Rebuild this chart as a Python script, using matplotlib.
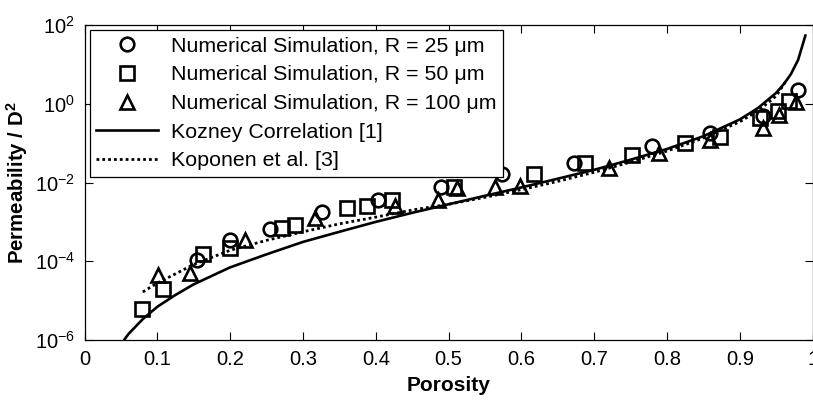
import matplotlib

matplotlib.use("Agg")
import matplotlib.pyplot as plt

plt.rcParams["font.family"] = ["Liberation Sans", "DejaVu Sans"]
plt.rcParams["mathtext.fontset"] = "custom"
plt.rcParams["mathtext.rm"] = "Liberation Sans"
plt.rcParams["mathtext.bf"] = "Liberation Sans:bold"
plt.rcParams["mathtext.default"] = "regular"

# numerical simulation, R = 25 um
c_phi = [0.155, 0.20, 0.255, 0.326, 0.403, 0.49, 0.573, 0.672, 0.779, 0.859, 0.932, 0.98]
c_k = [1.1e-4, 3.5e-4, 6.7e-4, 1.8e-3, 3.5e-3, 7.5e-3, 1.6e-2, 3.2e-2, 8.5e-2, 0.18, 0.5, 2.2]

# numerical simulation, R = 50 um
s_phi = [0.079, 0.108, 0.163, 0.20, 0.271, 0.289, 0.36, 0.388, 0.422, 0.507,
         0.617, 0.687, 0.752, 0.825, 0.873, 0.927, 0.952, 0.967]
s_k = [6.2e-6, 1.95e-5, 1.5e-4, 2.2e-4, 6.9e-4, 8.5e-4, 2.2e-3, 2.5e-3, 3.7e-3, 7.5e-3,
       1.6e-2, 3.1e-2, 5e-2, 0.1, 0.147, 0.43, 0.65, 1.2]

# numerical simulation, R = 100 um
t_phi = [0.101, 0.145, 0.221, 0.317, 0.427, 0.485, 0.512, 0.564, 0.598, 0.72,
         0.789, 0.859, 0.932, 0.954, 0.977]
t_k = [4.6e-5, 4.9e-5, 3.4e-4, 1.25e-3, 2.5e-3, 3.5e-3, 7.2e-3, 7.5e-3, 8.2e-3, 2.3e-2,
       5.6e-2, 0.12, 0.24, 0.52, 1.1]

# Kozeny correlation
koz_phi = [0.05, 0.06, 0.08, 0.10, 0.125, 0.15, 0.2, 0.25, 0.3, 0.35, 0.4, 0.45, 0.5,
           0.55, 0.6, 0.65, 0.7, 0.75, 0.8, 0.85, 0.9, 0.925, 0.95, 0.96, 0.97, 0.98, 0.99]
koz_k = [7.7e-7, 1.4e-6, 3.4e-6, 7e-6, 1.4e-5, 2.6e-5, 7e-5, 1.5e-4, 3.1e-4, 5.6e-4, 1.0e-3,
         1.7e-3, 2.8e-3, 4.6e-3, 7.5e-3, 1.25e-2, 2.1e-2, 3.8e-2, 7.1e-2, 0.15, 0.4, 0.78,
         1.9, 3.1, 5.6, 13, 54]

# Koponen et al.
kop_phi = [0.08, 0.1, 0.12, 0.15, 0.2, 0.25, 0.3, 0.35, 0.4, 0.45, 0.5, 0.55, 0.6,
           0.65, 0.7, 0.75, 0.8, 0.85, 0.9, 0.925, 0.95, 0.965]
kop_k = [1.66e-5, 2.8e-5, 4.3e-5, 8.3e-5, 1.9e-4, 3.4e-4, 5.6e-4, 8.9e-4, 1.32e-3, 2.0e-3,
         2.8e-3, 4.2e-3, 6.6e-3, 1.07e-2, 1.82e-2, 3.3e-2, 6.3e-2, 0.135, 0.35, 0.66, 1.58, 4.2]

x_ticks = [0, 0.1, 0.2, 0.3, 0.4, 0.5, 0.6, 0.7, 0.8, 0.9, 1]
x_labels = ["0", "0.1", "0.2", "0.3", "0.4", "0.5", "0.6", "0.7", "0.8", "0.9", "1"]
y_ticks = [1e-6, 1e-4, 1e-2, 1e0, 1e2]
y_labels = ["$10^{-6}$", "$10^{-4}$", "$10^{-2}$", "$10^{0}$", "$10^{2}$"]

fig = plt.figure(figsize=(8.13, 4.0), dpi=100)
ax = fig.add_axes([0.104, 0.15, 0.8956, 0.7875])

mk = dict(linestyle="none", mfc="none", mec="black", color="black", ms=9.8, mew=1.9)
ax.plot(c_phi, c_k, marker="o", label=r"Numerical Simulation, R = 25 μm", **mk)
ax.plot(s_phi, s_k, marker="s", label=r"Numerical Simulation, R = 50 μm", **mk)
ax.plot(t_phi, t_k, marker="^", label=r"Numerical Simulation, R = 100 μm", **mk)
ax.plot(koz_phi, koz_k, color="black", lw=1.9, label="Kozney Correlation [1]")
ax.plot(kop_phi, kop_k, color="black", lw=2.0, linestyle=(0, (1, 1.1)), label="Koponen et al. [3]")

ax.set_yscale("log")
ax.set_xlim(0, 1)
ax.set_ylim(1e-6, 1e2)
ax.set_xticks(x_ticks)
ax.set_xticklabels(x_labels)
ax.set_yticks(y_ticks)
ax.set_yticklabels(y_labels)
ax.minorticks_off()
ax.tick_params(direction="in", length=6, width=0.8, top=True, right=True, labelsize=14.5, pad=7)

for sp in ax.spines.values():
    sp.set_linewidth(0.9)

ax.set_xlabel("Porosity", fontsize=15, fontweight="bold", labelpad=5)
ax.set_ylabel(r"Permeability / D$^{\mathbf{2}}$", fontsize=14.7, fontweight="bold", labelpad=3)

leg = ax.legend(loc="upper left", fontsize=15.4, frameon=True, fancybox=False, framealpha=1,
                edgecolor="black", handlelength=2.9, handletextpad=0.6, borderaxespad=0.25,
                labelspacing=0.45, borderpad=0.3, numpoints=1)
leg.get_frame().set_linewidth(0.9)

fig.savefig("out.png", dpi=100)
